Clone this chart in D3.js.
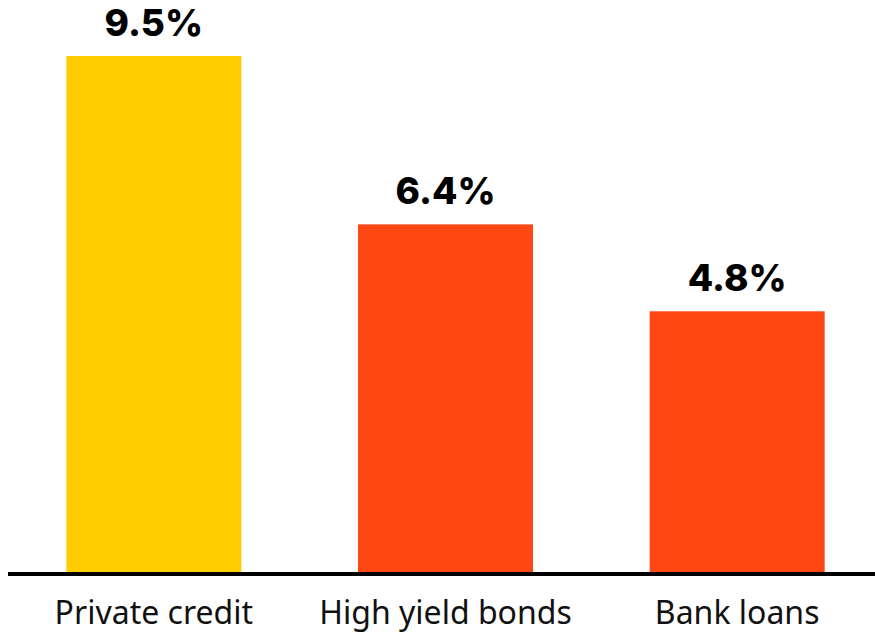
<!DOCTYPE html>
<html>
<head>
<meta charset="utf-8">
<script src="https://cdn.jsdelivr.net/npm/d3@7"></script>
<style>
  body { margin: 0; background: #fff; }
</style>
</head>
<body>
<div id="chart"></div>
<script>
let categories = ["Private credit", "High yield bonds", "Bank loans"]
let values = [9.5, 6.4, 4.8]
let barColors = ["#ffcd00", "#ff4713", "#ff4713"]

let width = 875, height = 632
let baseY = 572

let svg = d3.select("#chart").append("svg")
  .attr("width", width)
  .attr("height", height)

let x = d3.scaleBand()
  .domain(categories)
  .range([8, 883])
  .paddingInner(0.4)
  .paddingOuter(0.2)

let y = d3.scaleLinear()
  .domain([0, 9.5])
  .range([baseY, 56])

let data = categories.map(function(c, i){
  return {name: c, value: values[i], color: barColors[i]}
})

svg.append("g").selectAll("rect")
  .data(data)
  .enter().append("rect")
    .attr("x", function(d){ return x(d.name) })
    .attr("width", x.bandwidth())
    .attr("y", function(d){ return y(d.value) })
    .attr("height", function(d){ return baseY - y(d.value) })
    .attr("fill", function(d){ return d.color })

// value labels
svg.append("g").selectAll("text")
  .data(data)
  .enter().append("text")
    .attr("x", function(d){ return x(d.name) + x.bandwidth() / 2 })
    .attr("y", function(d){ return y(d.value) - 20 })
    .attr("text-anchor", "middle")
    .style("font-family", "Inter, 'Noto Sans', sans-serif")
    .style("font-weight", "800")
    .style("font-size", "37px")
    .style("fill", "#000")
    .text(function(d){ return d.value.toFixed(1) + "%" })

// baseline
svg.append("line")
  .attr("x1", 8).attr("x2", width)
  .attr("y1", baseY + 2).attr("y2", baseY + 2)
  .attr("stroke", "#000")
  .attr("stroke-width", 4)

// category labels (descenders run off the bottom edge, as in the original)
svg.append("g").selectAll("text")
  .data(data)
  .enter().append("text")
    .attr("x", function(d){ return x(d.name) + x.bandwidth() / 2 })
    .attr("y", 624)
    .attr("text-anchor", "middle")
    .style("font-family", "'Noto Sans', sans-serif")
    .style("font-size", "32px")
    .style("fill", "#111")
    .text(function(d){ return d.name })
</script>
</body>
</html>
